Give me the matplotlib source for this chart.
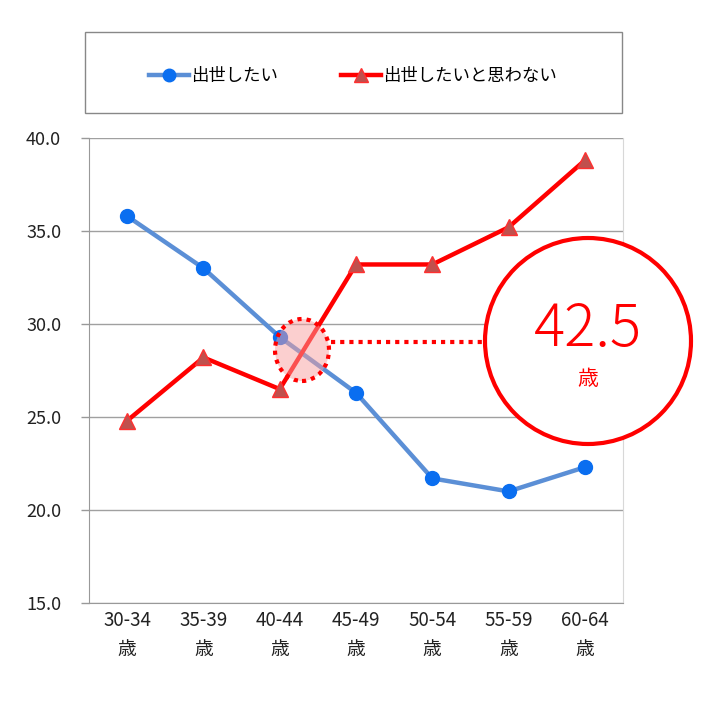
import matplotlib.pyplot as plt
from matplotlib.patches import Rectangle, Ellipse
from matplotlib.lines import Line2D

plt.rcParams['font.family'] = ['Noto Sans CJK JP', 'DejaVu Sans']

categories = ['30-34\n歳', '35-39\n歳', '40-44\n歳', '45-49\n歳', '50-54\n歳', '55-59\n歳', '60-64\n歳']
want_promotion = [35.8, 33.0, 29.3, 26.3, 21.7, 21.0, 22.3]
no_promotion = [24.8, 28.2, 26.5, 33.2, 33.2, 35.2, 38.8]
yticks = [15.0, 20.0, 25.0, 30.0, 35.0, 40.0]
crossover_age = '42.5'

W, H = 703, 704
fig = plt.figure(figsize=(W / 100, H / 100), dpi=100)
ax = fig.add_axes([89 / W, 1 - 603 / H, 534 / W, 465 / H])

x = list(range(len(categories)))
ax.plot(x, want_promotion, color='#5B8FD6', lw=3.2, marker='o', ms=10,
        mfc='#0A6EF0', mec='#0A6EF0', zorder=3, label='出世したい')
ax.plot(x, no_promotion, color='#FF0000', lw=3.2, marker='^', ms=11,
        mfc='#C0504D', mec='#FF3030', zorder=4, label='出世したいと思わない')

ax.set_xlim(-0.5, len(categories) - 0.5)
ax.set_ylim(15, 40)
ax.set_yticks(yticks)
ax.set_yticklabels(['%.1f' % v for v in yticks], fontsize=13, color='#222222')
ax.set_xticks(x)
ax.set_xticklabels(categories, fontsize=13.5, color='#222222', linespacing=1.5)
ax.tick_params(axis='x', length=0, pad=5)
ax.tick_params(axis='y', length=6, color='#999999', width=1, pad=14)
ax.grid(axis='y', color='#A0A0A0', lw=1)
ax.set_axisbelow(True)
for s in ['left', 'bottom']:
    ax.spines[s].set_color('#999999')
ax.spines['top'].set_visible(False)
ax.spines['right'].set_color('#D8D8D8')

# crossover highlight
fig.add_artist(Ellipse((302 / W, 1 - 350 / H), 54 / W, 62 / H, facecolor='#F8A0A0',
                       alpha=0.5, edgecolor='none', zorder=5))
fig.add_artist(Ellipse((302 / W, 1 - 350 / H), 54 / W, 62 / H, facecolor='none',
                       edgecolor='#FF0000', lw=3, ls=(0, (1, 1.2)), zorder=6))
fig.add_artist(Line2D([331 / W, 486 / W], [1 - 342 / H, 1 - 342 / H], color='#FF0000',
                      lw=3, ls=(0, (1, 1.2)), zorder=6))
fig.add_artist(Ellipse((588 / W, 1 - 341 / H), 206 / W, 206 / H, facecolor='white',
                       edgecolor='#FF0000', lw=3, zorder=6))
fig.text(588 / W, 1 - 330 / H, crossover_age, color='#FF0000', fontsize=42,
         fontweight='light', ha='center', va='center', zorder=7)
fig.text(588 / W, 1 - 379 / H, '歳', color='#FF0000', fontsize=15,
         ha='center', va='center', zorder=7)

# legend box
fig.add_artist(Rectangle((85 / W, 1 - 113 / H), 537 / W, 81 / H, facecolor='white',
                         edgecolor='#888888', lw=1))
fig.legend(loc='center', bbox_to_anchor=(353 / W, 1 - 76 / H), ncol=2, frameon=False,
           fontsize=12.5, handlelength=2.3, columnspacing=3.6, handletextpad=0.15,
           markerscale=0.9)

fig.savefig('out.png', dpi=100)
